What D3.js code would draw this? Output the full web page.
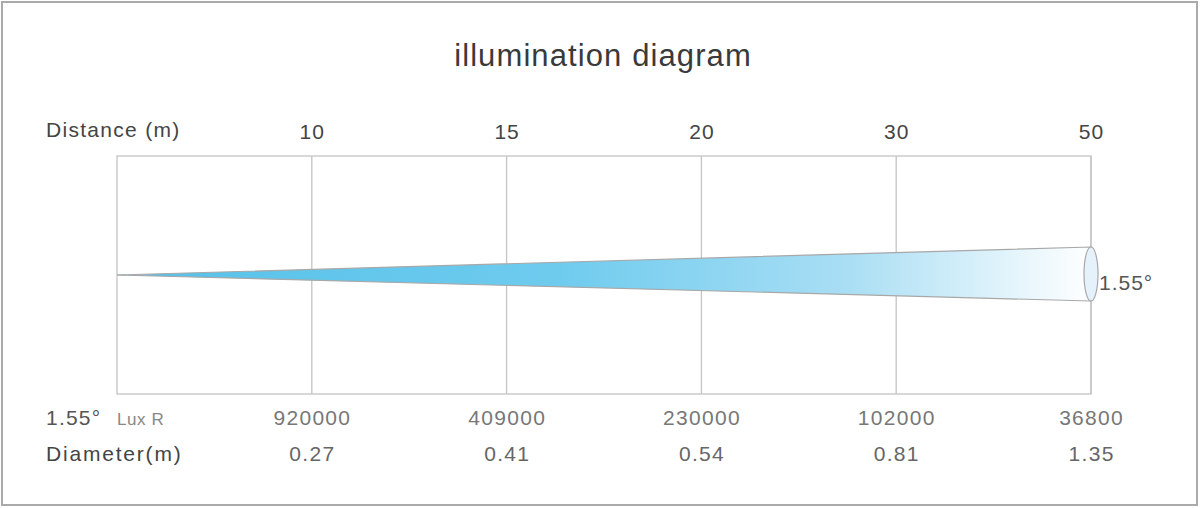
<!DOCTYPE html>
<html><head><meta charset="utf-8">
<script src="https://cdn.jsdelivr.net/npm/d3@7"></script>
<style>
html,body{margin:0;padding:0;background:#fff;}
svg{display:block;font-family:"Liberation Sans",Arial,sans-serif;}
</style></head>
<body>
<svg id="c" width="1200" height="508"></svg>
<script>
const distances = ["10","15","20","30","50"];
const luxValues = ["920000","409000","230000","102000","36800"];
const diameters = ["0.27","0.41","0.54","0.81","1.35"];
const beamAngle = "1.55°";
const title = "illumination diagram";

(function(){
const svg = d3.select("#c");
const pL = 117, pR = 1091, pT = 156, pB = 394, mid = 274;

svg.append("rect").attr("x",2).attr("y",2).attr("width",1195).attr("height",503)
  .attr("fill","#fff").attr("stroke","#aaa").attr("stroke-width",2);

const x = d3.scalePoint().domain(["0"].concat(distances)).range([pL,pR]);
const maxD = d3.max(diameters, d=>+d);
const y = d3.scaleLinear().domain([-maxD/2, maxD/2]).range([mid+27, mid-27]);

const defs = svg.append("defs");
const g = defs.append("linearGradient").attr("id","beam").attr("x1","0%").attr("x2","100%").attr("y1","0%").attr("y2","0%");
g.append("stop").attr("offset","0%").attr("stop-color","#56c1e9");
g.append("stop").attr("offset","45%").attr("stop-color","#6ecbee");
g.append("stop").attr("offset","75%").attr("stop-color","#a9def4");
g.append("stop").attr("offset","100%").attr("stop-color","#ffffff");

svg.append("rect").attr("x",pL).attr("y",pT).attr("width",pR-pL).attr("height",pB-pT)
  .attr("fill","none").attr("stroke","#c4c4c4").attr("stroke-width",1.3);
svg.selectAll("line.grid").data(distances).enter().append("line").attr("class","grid")
  .attr("x1",d=>x(d)).attr("x2",d=>x(d)).attr("y1",pT).attr("y2",pB)
  .attr("stroke","#c4c4c4").attr("stroke-width",1.3);
svg.append("line").attr("x1",pL).attr("x2",pL+8).attr("y1",mid+1).attr("y2",mid+1)
  .attr("stroke","#bbb").attr("stroke-width",1.3);

const last = distances[distances.length-1];
const cone = [[x("0"), mid+1],[x(last), y(maxD/2)],[x(last), y(-maxD/2)]];
svg.append("path").attr("d", d3.line()(cone)+"Z")
  .attr("fill","url(#beam)").attr("stroke","#a8a8a8").attr("stroke-width",1.2);
svg.append("ellipse").attr("cx",x(last)).attr("cy",mid).attr("rx",7).attr("ry",(y(-maxD/2)-y(maxD/2))/2)
  .attr("fill","#e6f2fb").attr("stroke","#a8a8a8").attr("stroke-width",1.2);

const txt = (sx, sy, s, size, fill, anchor, ls) => svg.append("text").attr("x",sx).attr("y",sy)
  .attr("font-size",size).attr("fill",fill).attr("text-anchor",anchor||"start")
  .attr("letter-spacing",ls||0).text(s);

txt(603, 66, title, 31, "#3a3a3a", "middle", 1.1);
txt(46, 137, "Distance (m)", 21, "#444", "start", 1.3);
svg.selectAll("text.dist").data(distances).enter().append("text").attr("class","dist")
  .attr("x",d=>x(d)+0.5).attr("y",139).attr("text-anchor","middle").attr("font-size",21)
  .attr("letter-spacing",1).attr("fill","#444").text(d=>d);

txt(1099, 290, beamAngle, 21, "#555", "start", 1);

txt(46, 425, beamAngle, 21, "#555", "start", 1.2);
txt(117, 425, "Lux R", 17, "#888", "start", 0.6);
svg.selectAll("text.lux").data(luxValues).enter().append("text").attr("class","lux")
  .attr("x",(d,i)=>x(distances[i])+0.6).attr("y",425).attr("text-anchor","middle").attr("font-size",21)
  .attr("letter-spacing",1.3).attr("fill","#777").text(d=>d);

txt(46, 461, "Diameter(m)", 21, "#444", "start", 1.8);
svg.selectAll("text.dia").data(diameters).enter().append("text").attr("class","dia")
  .attr("x",(d,i)=>x(distances[i])+0.6).attr("y",461).attr("text-anchor","middle").attr("font-size",21)
  .attr("letter-spacing",1.3).attr("fill","#666").text(d=>d);
})();
</script>
</body></html>
